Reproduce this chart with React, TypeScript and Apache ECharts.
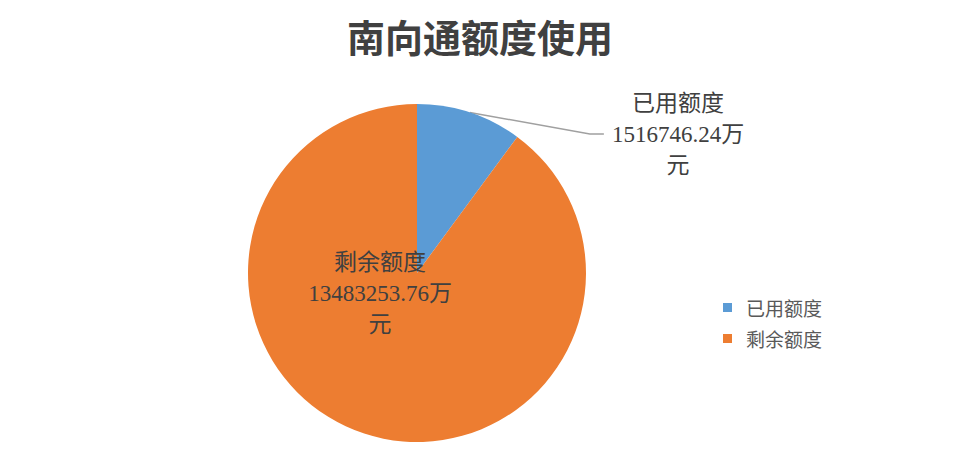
import { useEffect, useRef } from "react";
import * as echarts from "echarts";

const names = ["已用额度", "剩余额度"];
const amounts = [1516746.24, 13483253.76];
const colors = ["#5B9BD5", "#ED7D31"];

export default function App() {
  const chartRef = useRef<HTMLDivElement>(null);

  useEffect(() => {
    if (!chartRef.current) return;
    document.body.style.margin = "0";
    const chart = echarts.init(chartRef.current, undefined, { renderer: "svg" });

    const labelFont = "'Liberation Serif', 'Noto Sans CJK SC', serif";

    const option: echarts.EChartsOption = {
      animation: false,
      backgroundColor: "#ffffff",
      title: {
        text: "南向通额度使用",
        left: "center",
        top: 16,
        padding: 0,
        textStyle: {
          fontSize: 38,
          fontWeight: "bold",
          color: "#404040",
          fontFamily: "'Noto Sans CJK SC', sans-serif",
        },
      },
      legend: {
        orient: "vertical",
        left: 718,
        top: 293,
        icon: "rect",
        itemWidth: 9,
        itemHeight: 9,
        itemGap: 12,
        data: names,
        textStyle: {
          fontSize: 19,
          color: "#595959",
          padding: [0, 0, 0, 9],
          fontFamily: "'Noto Sans CJK SC', sans-serif",
        },
      },
      series: [
        {
          type: "pie",
          center: [417, 273],
          radius: 169,
          startAngle: 90,
          clockwise: true,
          silent: true,
          label: {
            fontSize: 23,
            lineHeight: 31,
            color: "#404040",
            fontFamily: labelFont,
            align: "center",
            formatter: (p: any) => `${p.name}\n${p.value.toFixed(2)}万\n元`,
          },
          labelLine: {
            lineStyle: { color: "#a0a0a0", width: 1.5 },
            length: 20,
            length2: 14,
          },
          labelLayout: (params: any) => {
            if (params.dataIndex === 0) {
              return { x: 678, y: 134, align: "center", verticalAlign: "middle" };
            }
            return { x: 380, y: 293, align: "center", verticalAlign: "middle" };
          },
          data: names.map((n, i) => ({
            name: n,
            value: amounts[i],
            itemStyle: { color: colors[i] },
            label: {
              position: i === 0 ? "outside" : "inside",
              padding: i === 0 ? [0, 8] : 0,
            },
            labelLine: { show: i === 0 },
          })),
        },
      ],
    };

    chart.setOption(option);
    return () => chart.dispose();
  }, []);

  return <div ref={chartRef} style={{ width: 960, height: 472 }} />;
}
